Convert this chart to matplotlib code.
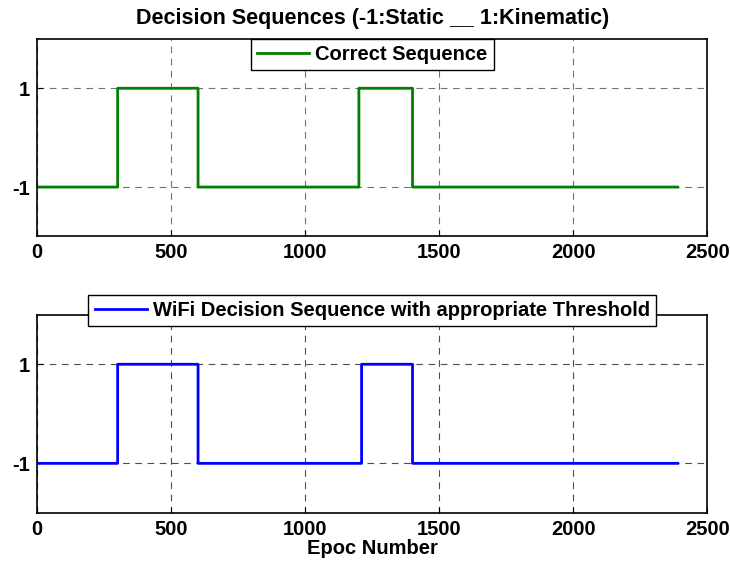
import matplotlib.pyplot as plt
import numpy as np

plt.rcParams['font.family'] = ['Liberation Sans', 'DejaVu Sans']
plt.rcParams['font.weight'] = 'bold'
plt.rcParams['axes.unicode_minus'] = False

# Limites dos segmentos (épocas) e decisões (-1: estático, 1: cinemático)
correct_bounds = [0, 300, 600, 1200, 1400, 2390]
correct_values = [-1, 1, -1, 1, -1]

wifi_bounds = [0, 300, 600, 1210, 1400, 2390]
wifi_values = [-1, 1, -1, 1, -1]

title = "Decision Sequences (-1:Static __ 1:Kinematic)"
label_correct = "Correct Sequence"
label_wifi = "WiFi Decision Sequence with appropriate Threshold"
xlabel = "Epoc Number"


def to_sequence(bounds, values):
    lengths = np.diff(bounds)
    seq = np.repeat(values, lengths)
    epochs = np.arange(bounds[0], bounds[-1])
    return epochs, seq


fig = plt.figure(figsize=(7.3, 5.63), dpi=100)
ax1 = fig.add_axes([0.051, 0.580, 0.918, 0.351])
ax2 = fig.add_axes([0.051, 0.089, 0.918, 0.352])

x1, y1 = to_sequence(correct_bounds, correct_values)
x2, y2 = to_sequence(wifi_bounds, wifi_values)

ax1.step(x1, y1, where='post', color='#008000', lw=2, label=label_correct)
ax2.step(x2, y2, where='post', color='#0000ff', lw=2, label=label_wifi)

grid_colors = {ax1: '0.45', ax2: '0.3'}
for ax in (ax1, ax2):
    ax.set_xlim(0, 2500)
    ax.set_ylim(-2, 2)
    ax.set_xticks([0, 500, 1000, 1500, 2000, 2500])
    ax.set_yticks([-1, 1])
    ax.grid(True, linestyle=(0, (6, 5)), color=grid_colors[ax], lw=0.8)
    ax.tick_params(direction='in', length=4, labelsize=14.5, pad=5)
    for lab in ax.get_xticklabels() + ax.get_yticklabels():
        lab.set_fontweight('bold')
    for sp in ax.spines.values():
        sp.set_linewidth(1.2)

ax1.set_title(title, fontsize=15.5, fontweight='bold', pad=11)
ax2.set_xlabel(xlabel, fontsize=14.5, fontweight='bold', labelpad=0)

leg1 = ax1.legend(loc='upper center', bbox_to_anchor=(0.5, 1.0), borderaxespad=0,
                  fancybox=False, framealpha=1, edgecolor='black',
                  prop={'size': 14.5, 'weight': 'bold'}, handlelength=2.6,
                  borderpad=0.3, handletextpad=0.3)
leg1.get_frame().set_linewidth(1.0)
leg2 = ax2.legend(loc='center', bbox_to_anchor=(0.5, 1.023), borderaxespad=0,
                  fancybox=False, framealpha=1, edgecolor='black',
                  prop={'size': 14.5, 'weight': 'bold'}, handlelength=2.6,
                  borderpad=0.3, handletextpad=0.3)
leg2.get_frame().set_linewidth(1.0)

fig.savefig('out.png', dpi=100)
